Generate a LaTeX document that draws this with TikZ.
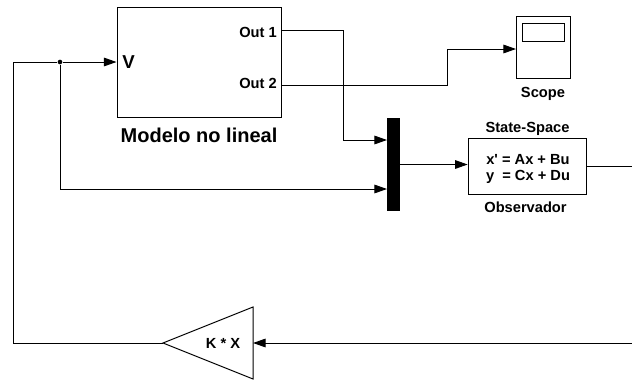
\documentclass[tikz,border=0pt]{standalone}
\usepackage{fontspec}
\setmainfont{Liberation Sans}
\usepackage{tikz}
\usetikzlibrary{positioning,arrows.meta}
\newcommand{\lblfont}{\bfseries\fontsize{11}{12}\selectfont}

\begin{document}
\begin{tikzpicture}[
    x=0.75pt,y=-0.75pt,
    block/.style={draw,line width=0.75pt,inner sep=0pt},
    lbl/.style={inner sep=0pt,font=\lblfont,align=center},
    arr/.style={-{Triangle[length=9.5pt,width=6.5pt]},line width=0.75pt},
    wire/.style={line width=0.75pt},
    dot/.style={circle,fill=black,inner sep=0pt,minimum size=3.5pt}
  ]
  \useasboundingbox (0,0) rectangle (632,379);

  % Nonlinear model
  \node[block,minimum width=123pt,minimum height=82.5pt] (model) at (199,62) {};
  \node[lbl,font=\bfseries\fontsize{14}{14}\selectfont,anchor=west] (vlabel) at (122,62) {V};
  \node[lbl,anchor=east] (out1label) at (277,32) {Out 1};
  \node[lbl,anchor=east] (out2label) at (277,83) {Out 2};
  \node[lbl,font=\bfseries\fontsize{15}{15}\selectfont,below=8pt of model] (modellabel) {Modelo no lineal};
  \coordinate (out1) at (281,30);
  \coordinate (out2) at (281,85);

  % Scope
  \node[block,minimum width=40.5pt,minimum height=46.5pt] (scope) at (543,47) {};
  \node[block,minimum width=31.5pt,minimum height=13.5pt] (screen) at (543,32) {};
  \node[lbl,below=6pt of scope] (scopelabel) {Scope};
  \coordinate (scopein) at (516,49);

  % Mux and observer
  \node[draw,fill=black,minimum width=9pt,minimum height=69pt,inner sep=0pt] (mux) at (393,164.5) {};
  \coordinate (muxin1) at (387,140);
  \coordinate (muxin2) at (387,189);
  \node[block,minimum width=89pt,minimum height=42pt] (obs) at (527.5,166) {};
  \node[lbl] (obseq) at (528,169) {x\textquotesingle{} = Ax + Bu\\y\ \ = Cx + Du};
  \node[lbl,above=1.5pt of obs] (obstitle) {State-Space};
  \node[lbl,below=5pt of obs,xshift=-1.5pt] (obslabel) {Observador};
  \coordinate (obsout) at (632,166);

  % Gain
  \coordinate (gaintip) at (163,343);
  \coordinate (gaintop) at (253,307);
  \coordinate (gainbot) at (253,379);
  \coordinate (gainin) at (253,343);
  \coordinate (gainsrc) at (632,343);
  \draw[wire,line join=miter] (gaintip) -- (gaintop) -- (gainbot) -- cycle;
  \node[lbl] (gainlabel) at (223,343) {K * X};

  % Junction
  \node[dot] (branch) at (60,62) {};

  \draw[arr] (out1) -- ++(62,0) |- (muxin1);
  \draw[arr] (out2) -- ++(166,0) |- (scopein);
  \draw[arr] (mux.east) -- (mux.east -| obs.west);
  \draw[wire] (obs.east) -- (obsout);
  \draw[arr] (gainsrc) -- (gainin);
  \draw[wire] (gaintip) -- ++(-150,0) |- (branch);
  \draw[arr] (branch) -- (model.west);
  \draw[arr] (branch) |- (muxin2);
\end{tikzpicture}
\end{document}
